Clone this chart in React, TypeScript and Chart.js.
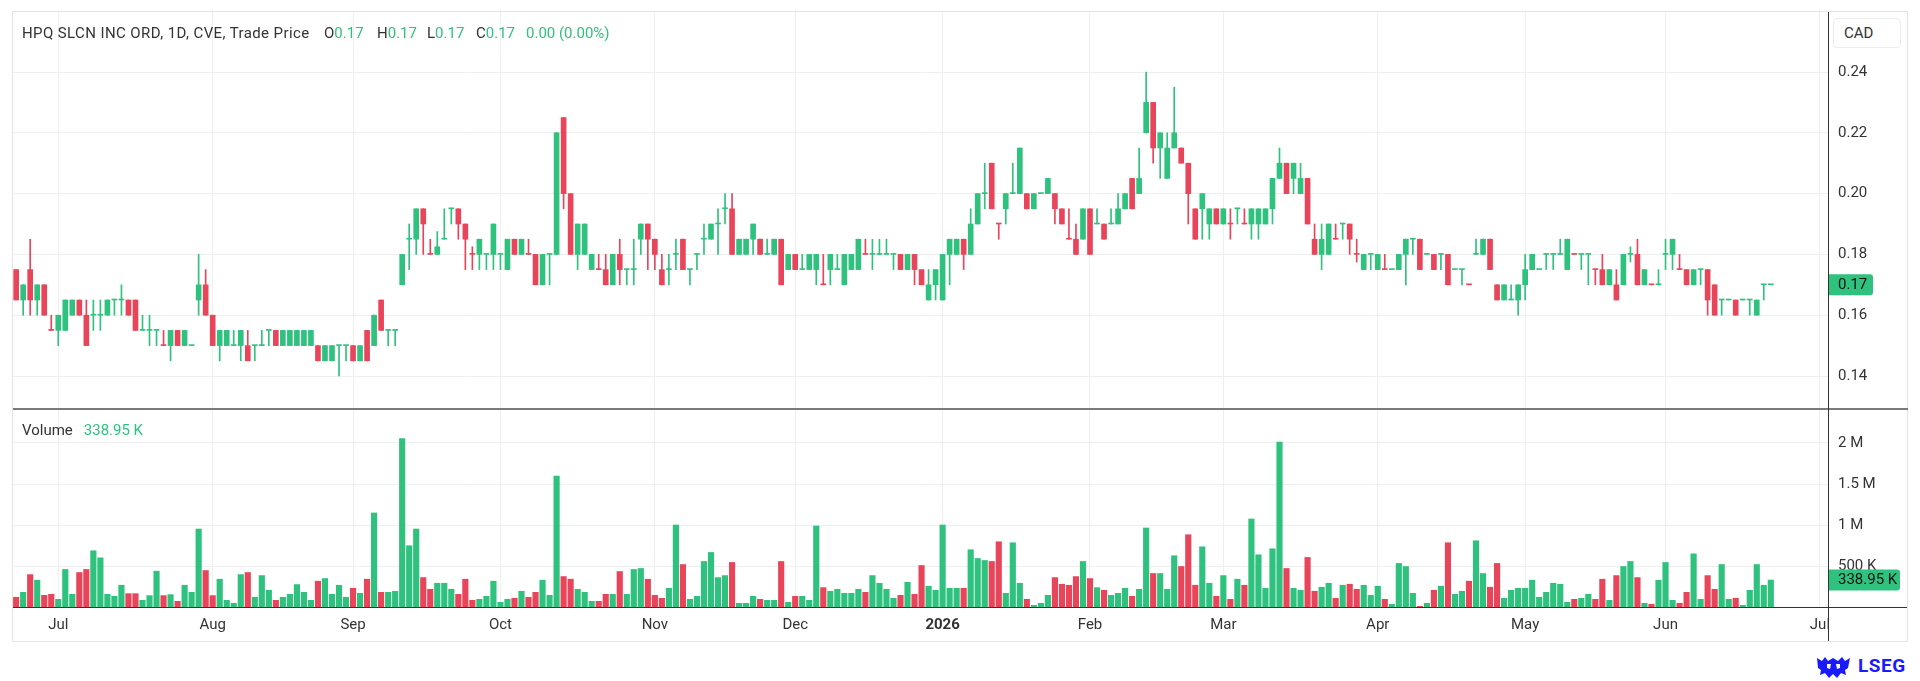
import React, { useEffect, useRef } from 'react';
import { Chart, registerables } from 'chart.js';

Chart.register(...registerables);

// ---------- data (daily candles, trading-day index 0 = 23 Jun 2025 ... 250 = 22 Jun 2026) ----------
const opens = [
  0.175, 0.165, 0.175, 0.165, 0.17, 0.155, 0.155, 0.155, 0.16, 0.165,
  0.16, 0.16, 0.16, 0.16, 0.165, 0.165, 0.165, 0.165, 0.155, 0.155,
  0.155, 0.15, 0.15, 0.155, 0.15, 0.15, 0.165, 0.17, 0.16, 0.15,
  0.15, 0.15, 0.15, 0.15, 0.15, 0.15, 0.155, 0.155, 0.15, 0.15,
  0.15, 0.15, 0.15, 0.15, 0.145, 0.145, 0.15, 0.15, 0.15, 0.145,
  0.155, 0.15, 0.165, 0.155, 0.155, 0.17, 0.185, 0.185, 0.195, 0.18,
  0.18, 0.185, 0.195, 0.195, 0.19, 0.18, 0.18, 0.18, 0.18, 0.18,
  0.175, 0.185, 0.18, 0.18, 0.18, 0.17, 0.18, 0.18, 0.225, 0.2,
  0.18, 0.18, 0.175, 0.175, 0.175, 0.17, 0.18, 0.175, 0.175, 0.185,
  0.19, 0.185, 0.175, 0.175, 0.18, 0.185, 0.175, 0.18, 0.185, 0.185,
  0.19, 0.195, 0.195, 0.18, 0.18, 0.185, 0.185, 0.18, 0.18, 0.185,
  0.175, 0.18, 0.175, 0.175, 0.175, 0.17, 0.175, 0.175, 0.17, 0.175,
  0.175, 0.18, 0.18, 0.18, 0.18, 0.18, 0.18, 0.175, 0.18, 0.175,
  0.165, 0.17, 0.165, 0.18, 0.18, 0.185, 0.18, 0.19, 0.2, 0.21,
  0.19, 0.195, 0.2, 0.2, 0.2, 0.195, 0.2, 0.2, 0.2, 0.195,
  0.185, 0.185, 0.185, 0.195, 0.19, 0.19, 0.19, 0.19, 0.195, 0.205,
  0.2, 0.22, 0.23, 0.215, 0.205, 0.215, 0.215, 0.21, 0.195, 0.195,
  0.19, 0.195, 0.19, 0.19, 0.195, 0.19, 0.19, 0.19, 0.19, 0.195,
  0.205, 0.21, 0.205, 0.2, 0.205, 0.185, 0.18, 0.18, 0.185, 0.19,
  0.19, 0.18, 0.175, 0.18, 0.175, 0.175, 0.175, 0.175, 0.18, 0.185,
  0.185, 0.18, 0.18, 0.18, 0.18, 0.175, 0.175, 0.17, 0.18, 0.18,
  0.185, 0.17, 0.165, 0.165, 0.165, 0.17, 0.175, 0.175, 0.18, 0.18,
  0.18, 0.175, 0.18, 0.18, 0.18, 0.175, 0.175, 0.17, 0.17, 0.17,
  0.18, 0.18, 0.17, 0.17, 0.17, 0.18, 0.18, 0.175, 0.175, 0.17,
  0.175, 0.175, 0.17, 0.165, 0.165, 0.165, 0.165, 0.165, 0.16, 0.17,
  0.17,
];
const highs = [
  0.175, 0.17, 0.185, 0.17, 0.17, 0.16, 0.16, 0.165, 0.165, 0.165,
  0.165, 0.165, 0.165, 0.165, 0.165, 0.17, 0.165, 0.165, 0.16, 0.16,
  0.155, 0.155, 0.155, 0.155, 0.155, 0.15, 0.18, 0.175, 0.16, 0.155,
  0.155, 0.155, 0.155, 0.155, 0.15, 0.155, 0.155, 0.155, 0.155, 0.155,
  0.155, 0.155, 0.155, 0.15, 0.15, 0.15, 0.15, 0.15, 0.15, 0.15,
  0.155, 0.16, 0.165, 0.155, 0.155, 0.18, 0.19, 0.195, 0.195, 0.185,
  0.1875, 0.195, 0.195, 0.195, 0.19, 0.1825, 0.185, 0.18, 0.19, 0.18,
  0.185, 0.185, 0.185, 0.185, 0.18, 0.18, 0.18, 0.22, 0.225, 0.2,
  0.19, 0.19, 0.18, 0.18, 0.18, 0.18, 0.185, 0.175, 0.185, 0.19,
  0.19, 0.185, 0.18, 0.18, 0.185, 0.185, 0.175, 0.18, 0.19, 0.19,
  0.195, 0.2, 0.2, 0.185, 0.185, 0.19, 0.185, 0.185, 0.185, 0.185,
  0.18, 0.18, 0.18, 0.18, 0.18, 0.18, 0.18, 0.18, 0.18, 0.18,
  0.185, 0.185, 0.185, 0.185, 0.185, 0.18, 0.18, 0.18, 0.18, 0.175,
  0.175, 0.175, 0.18, 0.185, 0.185, 0.185, 0.195, 0.2, 0.21, 0.21,
  0.19, 0.2, 0.21, 0.215, 0.2, 0.2, 0.2, 0.205, 0.2, 0.195,
  0.195, 0.19, 0.195, 0.195, 0.195, 0.19, 0.195, 0.2, 0.2, 0.205,
  0.215, 0.24, 0.23, 0.22, 0.22, 0.235, 0.215, 0.21, 0.195, 0.2,
  0.195, 0.195, 0.195, 0.195, 0.195, 0.195, 0.195, 0.195, 0.195, 0.205,
  0.215, 0.21, 0.21, 0.21, 0.205, 0.19, 0.19, 0.19, 0.19, 0.19,
  0.19, 0.185, 0.18, 0.18, 0.18, 0.18, 0.175, 0.18, 0.185, 0.185,
  0.185, 0.18, 0.18, 0.18, 0.18, 0.175, 0.175, 0.17, 0.185, 0.185,
  0.185, 0.17, 0.17, 0.17, 0.17, 0.18, 0.18, 0.175, 0.18, 0.18,
  0.185, 0.185, 0.18, 0.18, 0.18, 0.175, 0.18, 0.175, 0.175, 0.18,
  0.1825, 0.185, 0.175, 0.17, 0.175, 0.185, 0.185, 0.18, 0.175, 0.175,
  0.175, 0.175, 0.17, 0.165, 0.165, 0.165, 0.165, 0.165, 0.165, 0.17,
  0.17,
];
const lows = [
  0.165, 0.16, 0.16, 0.16, 0.16, 0.155, 0.15, 0.155, 0.16, 0.16,
  0.15, 0.155, 0.155, 0.16, 0.16, 0.16, 0.16, 0.155, 0.155, 0.15,
  0.15, 0.15, 0.145, 0.15, 0.15, 0.15, 0.16, 0.16, 0.15, 0.145,
  0.15, 0.15, 0.145, 0.145, 0.145, 0.15, 0.15, 0.15, 0.15, 0.15,
  0.15, 0.15, 0.15, 0.145, 0.145, 0.145, 0.14, 0.145, 0.145, 0.145,
  0.145, 0.15, 0.155, 0.15, 0.15, 0.17, 0.175, 0.18, 0.18, 0.18,
  0.18, 0.185, 0.19, 0.185, 0.175, 0.175, 0.175, 0.175, 0.175, 0.175,
  0.175, 0.18, 0.18, 0.18, 0.17, 0.17, 0.17, 0.18, 0.195, 0.18,
  0.175, 0.18, 0.175, 0.175, 0.17, 0.17, 0.17, 0.17, 0.17, 0.18,
  0.175, 0.175, 0.17, 0.17, 0.175, 0.175, 0.17, 0.175, 0.18, 0.185,
  0.18, 0.19, 0.18, 0.18, 0.18, 0.18, 0.18, 0.18, 0.18, 0.17,
  0.175, 0.175, 0.175, 0.175, 0.17, 0.17, 0.17, 0.175, 0.17, 0.175,
  0.175, 0.18, 0.175, 0.18, 0.18, 0.175, 0.175, 0.175, 0.17, 0.17,
  0.165, 0.165, 0.165, 0.17, 0.18, 0.175, 0.18, 0.19, 0.195, 0.195,
  0.185, 0.19, 0.2, 0.2, 0.195, 0.195, 0.2, 0.2, 0.19, 0.19,
  0.185, 0.18, 0.185, 0.18, 0.19, 0.185, 0.19, 0.19, 0.195, 0.195,
  0.2, 0.22, 0.21, 0.205, 0.205, 0.215, 0.21, 0.19, 0.185, 0.185,
  0.185, 0.19, 0.19, 0.185, 0.19, 0.19, 0.185, 0.185, 0.19, 0.19,
  0.205, 0.2, 0.2, 0.2, 0.19, 0.18, 0.175, 0.18, 0.185, 0.185,
  0.18, 0.1775, 0.175, 0.175, 0.175, 0.175, 0.175, 0.175, 0.17, 0.18,
  0.175, 0.18, 0.175, 0.175, 0.17, 0.175, 0.17, 0.17, 0.18, 0.18,
  0.175, 0.165, 0.165, 0.165, 0.16, 0.165, 0.175, 0.175, 0.175, 0.175,
  0.18, 0.175, 0.18, 0.175, 0.17, 0.17, 0.17, 0.17, 0.165, 0.17,
  0.1775, 0.17, 0.17, 0.17, 0.17, 0.175, 0.175, 0.175, 0.17, 0.17,
  0.17, 0.16, 0.16, 0.16, 0.165, 0.16, 0.165, 0.16, 0.16, 0.165,
  0.17,
];
const closes = [
  0.165, 0.17, 0.165, 0.17, 0.16, 0.155, 0.16, 0.165, 0.165, 0.16,
  0.15, 0.16, 0.16, 0.165, 0.165, 0.165, 0.16, 0.155, 0.155, 0.155,
  0.155, 0.15, 0.155, 0.15, 0.155, 0.15, 0.17, 0.16, 0.15, 0.155,
  0.155, 0.15, 0.155, 0.145, 0.15, 0.15, 0.155, 0.15, 0.155, 0.155,
  0.155, 0.155, 0.155, 0.145, 0.15, 0.15, 0.15, 0.15, 0.145, 0.15,
  0.145, 0.16, 0.155, 0.155, 0.155, 0.18, 0.185, 0.195, 0.19, 0.18,
  0.1825, 0.185, 0.195, 0.19, 0.185, 0.18, 0.185, 0.18, 0.19, 0.18,
  0.185, 0.18, 0.185, 0.18, 0.17, 0.18, 0.18, 0.22, 0.2, 0.18,
  0.19, 0.19, 0.18, 0.175, 0.17, 0.18, 0.175, 0.175, 0.175, 0.19,
  0.185, 0.18, 0.17, 0.175, 0.18, 0.175, 0.175, 0.18, 0.185, 0.19,
  0.19, 0.195, 0.18, 0.185, 0.185, 0.19, 0.18, 0.18, 0.185, 0.17,
  0.18, 0.175, 0.175, 0.18, 0.18, 0.17, 0.18, 0.175, 0.18, 0.18,
  0.185, 0.18, 0.18, 0.18, 0.18, 0.18, 0.175, 0.18, 0.175, 0.17,
  0.17, 0.175, 0.18, 0.185, 0.185, 0.18, 0.19, 0.2, 0.2, 0.195,
  0.19, 0.2, 0.2, 0.215, 0.195, 0.2, 0.2, 0.205, 0.195, 0.19,
  0.185, 0.18, 0.195, 0.18, 0.19, 0.185, 0.19, 0.195, 0.2, 0.195,
  0.205, 0.23, 0.215, 0.22, 0.215, 0.22, 0.21, 0.2, 0.185, 0.2,
  0.195, 0.19, 0.195, 0.19, 0.195, 0.19, 0.195, 0.195, 0.195, 0.205,
  0.21, 0.2, 0.21, 0.205, 0.19, 0.18, 0.185, 0.19, 0.185, 0.19,
  0.185, 0.18, 0.18, 0.18, 0.18, 0.175, 0.175, 0.18, 0.185, 0.185,
  0.175, 0.18, 0.175, 0.18, 0.17, 0.175, 0.175, 0.17, 0.18, 0.185,
  0.175, 0.165, 0.17, 0.165, 0.17, 0.175, 0.18, 0.175, 0.18, 0.18,
  0.18, 0.185, 0.18, 0.18, 0.18, 0.175, 0.17, 0.175, 0.165, 0.18,
  0.18, 0.17, 0.175, 0.17, 0.17, 0.18, 0.185, 0.175, 0.17, 0.175,
  0.175, 0.165, 0.16, 0.165, 0.165, 0.16, 0.165, 0.165, 0.165, 0.17,
  0.17,
];
const volumes = [
  130000, 190000, 405000, 337000, 154000, 166000, 105000, 467000, 166000, 430000,
  467000, 694000, 608000, 166000, 142000, 276000, 174000, 174000, 93000, 150000,
  446000, 150000, 162000, 81000, 276000, 190000, 957000, 454000, 150000, 349000,
  93000, 57000, 405000, 430000, 130000, 393000, 215000, 93000, 130000, 166000,
  284000, 190000, 93000, 325000, 357000, 166000, 276000, 130000, 239000, 178000,
  349000, 1152000, 190000, 190000, 203000, 2053000, 755000, 957000, 369000, 227000,
  300000, 300000, 227000, 166000, 349000, 93000, 105000, 142000, 325000, 69000,
  105000, 118000, 203000, 130000, 190000, 337000, 154000, 1598000, 381000, 349000,
  227000, 190000, 81000, 81000, 166000, 166000, 442000, 166000, 467000, 479000,
  349000, 154000, 118000, 239000, 1006000, 527000, 105000, 142000, 564000, 673000,
  369000, 393000, 552000, 57000, 57000, 142000, 105000, 93000, 93000, 564000,
  69000, 142000, 142000, 93000, 994000, 247000, 203000, 227000, 178000, 178000,
  227000, 190000, 393000, 300000, 227000, 118000, 154000, 312000, 166000, 515000,
  264000, 215000, 1006000, 239000, 239000, 239000, 706000, 600000, 576000, 564000,
  803000, 178000, 791000, 300000, 105000, 32000, 57000, 154000, 369000, 288000,
  276000, 381000, 564000, 357000, 247000, 215000, 154000, 178000, 239000, 142000,
  227000, 970000, 418000, 418000, 227000, 633000, 503000, 888000, 276000, 742000,
  300000, 142000, 393000, 105000, 349000, 276000, 1079000, 645000, 239000, 718000,
  2012000, 479000, 239000, 215000, 613000, 203000, 252000, 300000, 118000, 276000,
  288000, 227000, 276000, 154000, 264000, 105000, 45000, 540000, 503000, 178000,
  20000, 57000, 215000, 264000, 791000, 166000, 203000, 325000, 815000, 418000,
  252000, 540000, 118000, 215000, 239000, 239000, 337000, 130000, 190000, 300000,
  288000, 69000, 105000, 118000, 166000, 105000, 349000, 93000, 393000, 503000,
  564000, 369000, 57000, 45000, 337000, 552000, 93000, 57000, 190000, 657000,
  105000, 393000, 227000, 527000, 105000, 118000, 32000, 215000, 527000, 276000,
  338950,
];
// unchanged candles (open = close) that the picture paints red
const downDojis = [5, 21, 59, 65, 73, 83, 115, 121, 140, 150, 173, 175, 188, 191, 195, 207, 222, 225, 233, 237];

// x-axis: trading-day index of each month's first session, and its label
const monthTickIdx = [6, 28, 48, 69, 91, 111, 132, 153, 172, 194, 215, 235, 257];
const monthLabels = ['Jul', 'Aug', 'Sep', 'Oct', 'Nov', 'Dec', '2026', 'Feb', 'Mar', 'Apr', 'May', 'Jun', 'Jul'];
const priceTicks = [0.14, 0.16, 0.18, 0.2, 0.22, 0.24];
const volumeTicks = [500000, 1000000, 1500000, 2000000];

const TITLE = 'HPQ SLCN INC ORD, 1D, CVE, Trade Price';
const CURRENCY = 'CAD';

// ---------- style ----------
const GREEN = '#2fc27e';
const RED = '#e8455b';
const GRID = '#efefef';
const TEXT = '#333333';
const FONT = "Roboto, 'Noto Sans', sans-serif";
const X_MIN = -0.45;
const X_MAX = 258.15;
const P_MIN = 0.129145;
const P_MAX = 0.259737;
const V_MAX = 2412000;

const idx = opens.map((_, i) => i);
const isUp = idx.map((i) => closes[i] > opens[i] || (closes[i] === opens[i] && !downDojis.includes(i)));
const colors = isUp.map((u) => (u ? GREEN : RED));
const last = opens.length - 1;

function fmtVol(v: number): string {
  if (v >= 1000000) return `${+(v / 1000000).toFixed(2)} M`;
  return `${+(v / 1000).toFixed(2)} K`;
}

function tagPlugin(value: number, text: string, width: number) {
  return {
    id: 'lastTag',
    afterDraw(chart: any) {
      const { ctx, chartArea } = chart;
      const y = chart.scales.y.getPixelForValue(value);
      const x0 = chartArea.right + 1;
      const h = 21;
      ctx.save();
      ctx.fillStyle = GREEN;
      ctx.beginPath();
      if (ctx.roundRect) ctx.roundRect(x0, y - h / 2, width, h, [0, 3, 3, 0]);
      else ctx.rect(x0, y - h / 2, width, h);
      ctx.fill();
      ctx.fillStyle = '#111';
      ctx.font = `15px ${FONT}`;
      ctx.textBaseline = 'middle';
      ctx.textAlign = 'left';
      ctx.fillText(text, x0 + 9, y + 0.5);
      ctx.restore();
    },
  };
}

const xAxisBase = {
  type: 'linear' as const,
  min: X_MIN,
  max: X_MAX,
  bounds: 'data' as const,
  offset: false,
  grid: { color: GRID, drawTicks: false, offset: false },
  border: { display: false },
  afterBuildTicks: (s: any) => {
    s.ticks = monthTickIdx.map((v) => ({ value: v }));
  },
};

export default function App() {
  const priceRef = useRef<HTMLCanvasElement>(null);
  const volRef = useRef<HTMLCanvasElement>(null);

  useEffect(() => {
    Chart.defaults.font.family = FONT;
    Chart.defaults.font.size = 15;
    Chart.defaults.color = TEXT;

    const price = new Chart(priceRef.current!, {
      type: 'bar',
      data: {
        datasets: [
          {
            label: 'body',
            data: idx.map((i) => ({ x: i, y: [opens[i], closes[i]] })) as any,
            backgroundColor: colors,
            barThickness: 5,
            minBarLength: 1,
            grouped: false,
            order: 0,
            borderWidth: 0,
          },
          {
            label: 'wick',
            data: idx.map((i) => ({ x: i, y: [lows[i], highs[i]] })) as any,
            backgroundColor: colors,
            barThickness: 1,
            grouped: false,
            order: 1,
            borderWidth: 0,
          },
        ],
      },
      options: {
        animation: false,
        responsive: true,
        maintainAspectRatio: false,
        events: [],
        layout: { padding: 0 },
        plugins: { legend: { display: false }, tooltip: { enabled: false } },
        scales: {
          x: {
            ...xAxisBase,
            ticks: { display: false },
            afterFit: (s: any) => {
              s.height = 0;
              s.paddingLeft = 0;
              s.paddingRight = 0;
            },
          },
          y: {
            type: 'linear',
            position: 'right',
            min: P_MIN,
            max: P_MAX,
            bounds: 'data',
            grid: { color: GRID, drawTicks: false },
            border: { display: false },
            ticks: { padding: 10, color: TEXT, font: { size: 15 }, callback: (v: any) => Number(v).toFixed(2) },
            afterBuildTicks: (s: any) => {
              s.ticks = priceTicks.map((v) => ({ value: v }));
            },
            afterFit: (s: any) => {
              s.width = 80;
              s.paddingTop = 0;
              s.paddingBottom = 0;
            },
          },
        },
      } as any,
      plugins: [tagPlugin(closes[last], closes[last].toFixed(2), 44)],
    });

    const vol = new Chart(volRef.current!, {
      type: 'bar',
      data: {
        datasets: [
          {
            label: 'Volume',
            data: idx.map((i) => ({ x: i, y: volumes[i] })) as any,
            backgroundColor: colors,
            barThickness: 5.5,
            borderWidth: 0,
          },
        ],
      },
      options: {
        animation: false,
        responsive: true,
        maintainAspectRatio: false,
        events: [],
        layout: { padding: 0 },
        plugins: { legend: { display: false }, tooltip: { enabled: false } },
        scales: {
          x: {
            ...xAxisBase,
            position: 'bottom',
            ticks: {
              autoSkip: false,
              maxRotation: 0,
              minRotation: 0,
              padding: 8,
              color: TEXT,
              font: (ctx: any) => ({ size: 15, weight: monthLabels[ctx.index] === '2026' ? 'bold' : 'normal' }),
              callback: (_v: any, i: number) => monthLabels[i],
            },
            afterFit: (s: any) => {
              s.height = 33;
              s.paddingLeft = 0;
              s.paddingRight = 0;
            },
          },
          y: {
            type: 'linear',
            position: 'right',
            min: 0,
            max: V_MAX,
            bounds: 'data',
            grid: { color: GRID, drawTicks: false },
            border: { display: false },
            ticks: { padding: 10, color: TEXT, font: { size: 15 }, callback: (v: any) => fmtVol(Number(v)) },
            afterBuildTicks: (s: any) => {
              s.ticks = volumeTicks.map((v) => ({ value: v }));
            },
            afterFit: (s: any) => {
              s.width = 80;
              s.paddingTop = 0;
              s.paddingBottom = 0;
            },
          },
        },
      } as any,
      plugins: [tagPlugin(volumes[last], fmtVol(volumes[last]), 71)],
    });

    return () => {
      price.destroy();
      vol.destroy();
    };
  }, []);

  const change = closes[last] - closes[last - 1];
  const pct = (change / closes[last - 1]) * 100;
  const ohlc: [string, number][] = [
    ['O', opens[last]],
    ['H', highs[last]],
    ['L', lows[last]],
    ['C', closes[last]],
  ];
  const ohlcLeft = [324, 377, 427, 476];

  const abs = (style: React.CSSProperties): React.CSSProperties => ({ position: 'absolute', ...style });

  return (
    <div
      style={{
        position: 'fixed',
        left: 0,
        top: 0,
        width: 1920,
        height: 681,
        background: '#ffffff',
        fontFamily: FONT,
        color: TEXT,
        overflow: 'hidden',
      }}
    >
      <div style={abs({ left: 13, top: 12, width: 1895, height: 397 })}>
        <canvas ref={priceRef} />
      </div>
      <div style={abs({ left: 13, top: 409, width: 1895, height: 232 })}>
        <canvas ref={volRef} />
      </div>

      {/* frame and pane separators */}
      <div style={abs({ left: 12, top: 11, width: 1896, height: 631, border: '1px solid #e4e4e4', boxSizing: 'border-box' })} />
      <div style={abs({ left: 13, top: 408, width: 1895, height: 2, background: '#7a7a7a' })} />
      <div style={abs({ left: 13, top: 607, width: 1894, height: 1, background: '#333' })} />
      <div style={abs({ left: 1829, top: 609, width: 77, height: 31, background: '#fff' })} />
      <div style={abs({ left: 1828, top: 12, width: 1, height: 629, background: '#333' })} />

      {/* header */}
      <div style={abs({ left: 22, top: 24, fontSize: 15, lineHeight: '18px', letterSpacing: 0.4, whiteSpace: 'nowrap' })}>{TITLE}</div>
      {ohlc.map(([k, v], j) => (
        <div key={k} style={abs({ left: ohlcLeft[j], top: 24, fontSize: 15, lineHeight: '18px', whiteSpace: 'nowrap' })}>
          {k}
          <span style={{ color: GREEN }}>{v.toFixed(2)}</span>
        </div>
      ))}
      <div style={abs({ left: 526, top: 24, fontSize: 15, lineHeight: '18px', color: GREEN, whiteSpace: 'nowrap' })}>
        {`${change.toFixed(2)} (${pct.toFixed(2)}%)`}
      </div>

      <div style={abs({ left: 22, top: 421, fontSize: 15, lineHeight: '18px', whiteSpace: 'nowrap' })}>
        Volume
        <span style={{ color: GREEN, marginLeft: 11 }}>{fmtVol(volumes[last])}</span>
      </div>

      {/* currency box */}
      <div
        style={abs({
          left: 1833,
          top: 18,
          width: 68,
          height: 30,
          border: '1px solid #ececec',
          borderRadius: 4,
          boxSizing: 'border-box',
          background: '#fff',
          fontSize: 15,
          lineHeight: '28px',
          paddingLeft: 10,
        })}
      >
        {CURRENCY}
      </div>

      {/* logo */}
      <svg style={abs({ left: 1815, top: 656, width: 37, height: 23 })} viewBox="0 0 37 23">
        <path
          d="M2 2 L7 5 L10 1 L13 5 L18 2 L23 5 L27 1 L30 5 L35 2 L33 12 L30 14 L31 19 L26 17 L22 22 L18 18 L14 22 L10 17 L5 19 L6 14 L3 12 Z"
          fill="#1a1aff"
        />
        <path d="M12 8 L16 8 L15 13 L12 12 Z M21 8 L25 8 L25 12 L22 13 Z" fill="#fff" />
      </svg>
      <div style={abs({ left: 1858, top: 655, fontSize: 19, lineHeight: '22px', fontWeight: 700, color: '#1a1aff', letterSpacing: 0.5 })}>
        LSEG
      </div>
    </div>
  );
}
